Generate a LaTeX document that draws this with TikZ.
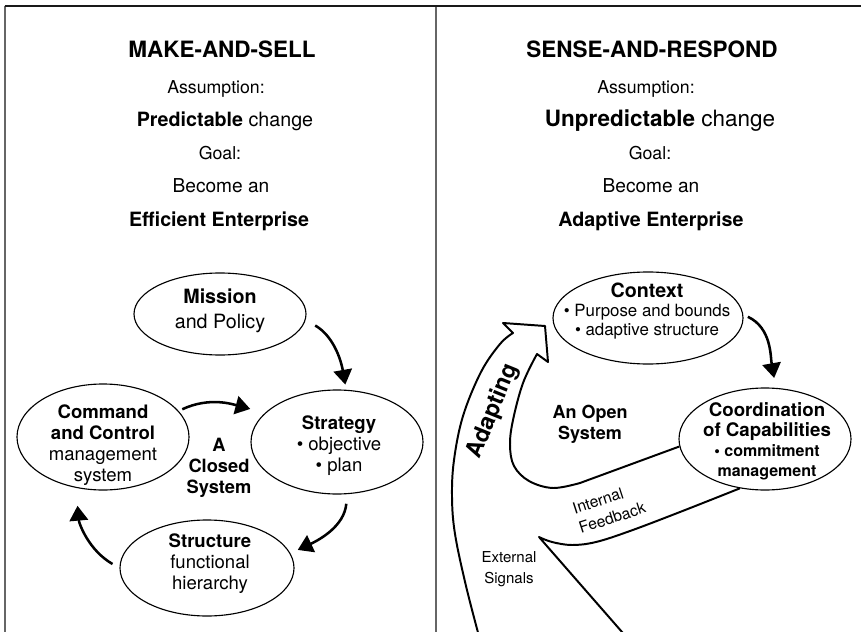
\documentclass[tikz,border=0pt]{standalone}
\usepackage{fontspec}
\setmainfont{TeX Gyre Heros}
\usetikzlibrary{shapes.geometric,arrows.meta}

\tikzset{
  bubble/.style={draw, ellipse, line width=0.8pt, inner sep=0pt},
  blurb/.style={align=center, inner sep=0pt},
  flow/.style={line width=1.8pt, -{Triangle[width=4.6mm,length=3.7mm]}},
  band/.style={line width=1.4pt, line join=round},
  paneltitle/.style={anchor=base, font=\fontsize{16}{19}\selectfont\bfseries},
  subline/.style={anchor=base, font=\fontsize{12.6}{15}\selectfont},
  keyline/.style={anchor=base, font=\fontsize{14}{17}\selectfont},
}

\begin{document}
\begin{tikzpicture}[x=0.25mm, y=-0.25mm]
	%%%%% FRAME %%%%%
	\useasboundingbox (0,0) rectangle (861,632);
	\draw[line width=1.4pt, black!60] (5,6) -- (5,640);
	\draw[line width=1.4pt, black!60] (436,6) -- (436,640);
	\draw[line width=1.4pt, black!90] (4.5,6) -- (870,6);

	%%%%% MAKE-AND-SELL %%%%%
	\node[paneltitle] (ms-title) at (222,58) {MAKE-AND-SELL};
	\node[subline] (ms-assume) at (216,94) {Assumption:};
	\node[keyline] (ms-change) at (225,127) {\textbf{Predictable} change};
	\node[subline] (ms-goal) at (220,160) {Goal:};
	\node[subline, font=\fontsize{13.6}{17}\selectfont] (ms-become) at (221,193) {Become an};
	\node[keyline, font=\fontsize{14}{17}\selectfont\bfseries] (ms-aim) at (219,227) {Efficient Enterprise};

	\node[bubble, minimum width=43mm, minimum height=20.5mm] (mission) at (220,314) {};
	\node[blurb, font=\fontsize{14}{17.4}\selectfont] (mission-txt) at (220,311) {\textbf{Mission}\\and Policy};

	\node[bubble, minimum width=43mm, minimum height=26.5mm] (command) at (103,437) {};
	\node[blurb, font=\fontsize{13.2}{15}\selectfont] (command-txt) at (103,445) {\textbf{Command}\\\textbf{and Control}\\management\\system};

	\node[bubble, minimum width=43mm, minimum height=26mm] (strategy) at (337,442) {};
	\node[blurb, font=\fontsize{13.2}{15}\selectfont] (strategy-txt) at (339,446) {\textbf{Strategy}\\\textbullet{} objective\\\textbullet{} plan};

	\node[bubble, minimum width=43.5mm, minimum height=24mm] (structure) at (207,568) {};
	\node[blurb, font=\fontsize{13.2}{15}\selectfont] (structure-txt) at (210,564) {\textbf{Structure}\\functional\\hierarchy};

	\node[blurb, font=\fontsize{13}{15}\selectfont\bfseries] (closed) at (219,468) {A\\Closed\\System};

	\draw[flow, shorten <=2.75mm, shorten >=1.3mm] (mission.-4) to[out=-30, in=100] (strategy.80);
	\draw[flow, shorten <=1mm, shorten >=3.8mm] (command.19) to[out=25, in=165] (strategy.158);
	\draw[flow, shorten <=2.4mm, shorten >=2mm] (strategy.-79) to[out=-95, in=25] (structure.10);
	\draw[flow, shorten <=2mm, shorten >=4.5mm] (structure.180) to[out=150, in=-85] (command.-118);

	%%%%% SENSE-AND-RESPOND %%%%%
	\node[paneltitle] (sr-title) at (652,58) {SENSE-AND-RESPOND};
	\node[subline] (sr-assume) at (646,94) {Assumption:};
	\node[keyline, font=\fontsize{16}{19}\selectfont] (sr-change) at (660,127) {\textbf{Unpredictable} change};
	\node[subline] (sr-goal) at (650,160) {Goal:};
	\node[subline, font=\fontsize{13.6}{17}\selectfont] (sr-become) at (651,193) {Become an};
	\node[keyline, font=\fontsize{14}{17}\selectfont\bfseries] (sr-aim) at (651,227) {Adaptive Enterprise};

	\node[bubble, minimum width=47.5mm, minimum height=23mm] (context) at (648,318) {};
	\node[blurb, font=\fontsize{12}{13.5}\selectfont] (context-txt) at (647,311) {{\fontsize{14}{13.5}\selectfont\bfseries Context}\\\textbullet{} Purpose and bounds\\\textbullet{} adaptive structure};

	\node[bubble, minimum width=43mm, minimum height=25.5mm] (coord) at (765,439) {};
	\node[blurb, font=\fontsize{13.3}{14.2}\selectfont\bfseries] (coord-txt) at (767,441) {Coordination\\of Capabilities\\{\fontsize{11.4}{14.2}\selectfont\textbullet{} commitment}\\{\fontsize{11.4}{14.2}\selectfont management}};

	\draw[flow, shorten <=1.25mm, shorten >=2.5mm] (context.2) to[out=-25, in=100] (coord.78);

	\node[blurb, font=\fontsize{12.8}{15}\selectfont\bfseries] (open) at (590,424) {An Open\\System};

	% adapting arrow: outer edge, head, then inner edge round the open loop
	\draw[band] plot[smooth, tension=0.6] coordinates {(480,640) (466,586) (455,534) (452,497) (454,460) (463,416) (481,372) (500,344) (513,333)}
		-- (503,323) -- (545,326) -- (548,362) -- (537,354)
		-- plot[smooth, tension=0.6] coordinates {(537,354) (523,383) (513,420) (510,445) (514,466) (529,481) (553,488) (580,483)}
		-- (coord.185);
	% internal feedback, turning into the external signals edge
	\draw[band] plot[smooth, tension=0.6] coordinates {(coord.-117) (680,512) (630,531) (596,542) (572,545) (552,542) (539,537)}
		-- (629,640);

	\node[rotate=68, font=\fontsize{16.5}{19}\selectfont\bfseries, inner sep=0pt] (adapting) at (493,411) {Adapting};
	\node[rotate=18, align=left, font=\fontsize{11.2}{14.6}\selectfont, inner sep=0pt] (internal) at (609,508) {Internal\\Feedback};
	\node[blurb, font=\fontsize{10.7}{15}\selectfont] (external) at (509,569) {External\\Signals};
\end{tikzpicture}
\end{document}
